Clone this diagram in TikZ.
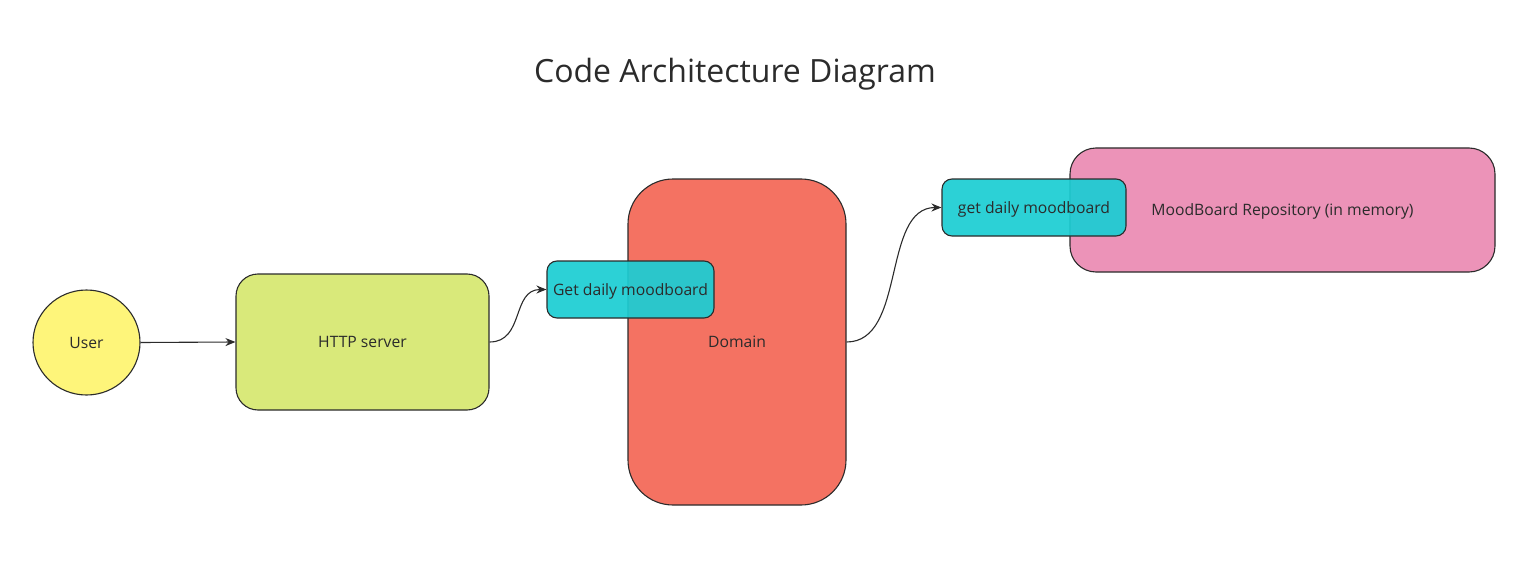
\documentclass[tikz,border=0pt]{standalone}
\usepackage{fontspec}
\setmainfont{Open Sans}
\usetikzlibrary{shapes.geometric,arrows.meta}
\definecolor{userfill}{HTML}{FEF57A}
\definecolor{httpfill}{HTML}{D9E97A}
\definecolor{domfill}{HTML}{F47262}
\definecolor{cyanfill}{HTML}{1CCDD3}
\definecolor{repofill}{HTML}{EC93B8}
\definecolor{linec}{HTML}{2B2B2B}
\begin{document}
\begin{tikzpicture}[x=1pt,y=-1pt,
  every node/.style={font=\fontsize{15.7}{18}\selectfont, text=linec},
  boxed/.style={draw=linec, line width=1.1pt, rounded corners=#1, text depth=-2pt},
  conn/.style={draw=linec, line width=1.1pt, -{Stealth[length=10pt,width=8pt]}}]
\useasboundingbox (0,0) rectangle (1531,575);
\node[font=\fontsize{32}{38}\selectfont] (title) at (735,74) {Code Architecture Diagram};
\node[ellipse, draw=linec, line width=1.1pt, fill=userfill, minimum width=107pt, minimum height=105pt, inner sep=0pt, text depth=-2pt] (user) at (86.5,342.5) {User};
\node[boxed=22pt, fill=httpfill, minimum width=253pt, minimum height=136pt] (http) at (362.5,342) {HTTP server};
\node[boxed=45pt, fill=domfill, minimum width=218pt, minimum height=326pt] (dom) at (737,342) {Domain};
\node[boxed=26pt, fill=repofill, minimum width=425pt, minimum height=124pt] (repo) at (1282.5,210) {MoodBoard Repository (in memory)};
\node[boxed=10pt, fill=cyanfill, fill opacity=0.93, text opacity=1, minimum width=167pt, minimum height=57pt, inner sep=0pt] (get1) at (630.5,289.5) {Get daily moodboard};
\node[boxed=10pt, fill=cyanfill, fill opacity=0.93, text opacity=1, minimum width=184pt, minimum height=57pt, inner sep=0pt] (get2) at (1034,207.5) {get daily moodboard};
\draw[conn] (user.east) -- (http.west);
\draw[conn] (http.east) .. controls +(35,0) and +(-35,0) .. (get1.west);
\draw[conn] (dom.east) .. controls +(60,0) and +(-60,0) .. (get2.west);
\end{tikzpicture}
\end{document}
